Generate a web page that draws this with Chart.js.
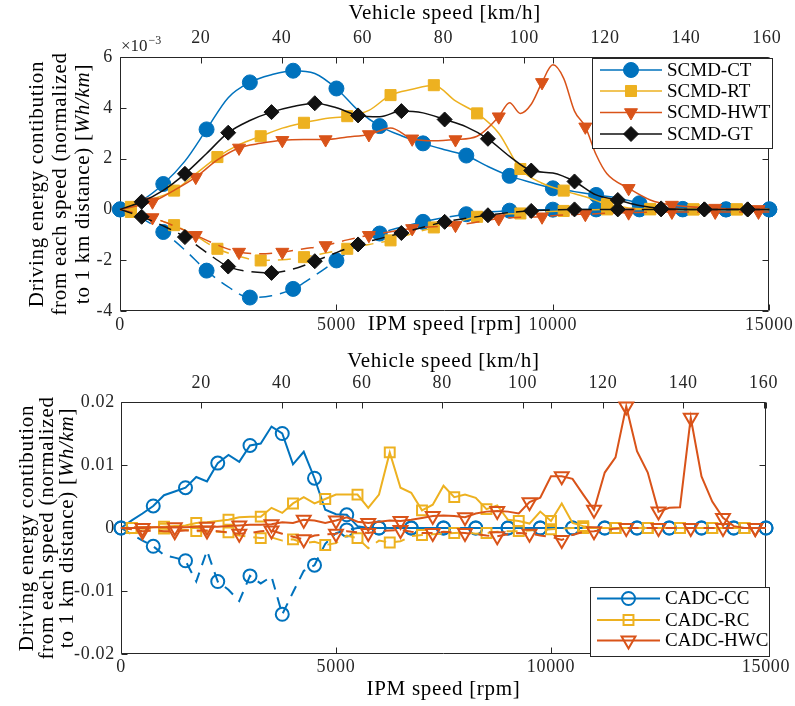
<!DOCTYPE html>
<html>
<head>
<meta charset="utf-8">
<script src="https://cdn.jsdelivr.net/npm/chart.js@4.4.1/dist/chart.umd.min.js"></script>
<style>
  body { margin: 0; background: #fff; }
  .wrap { position: absolute; left: 0; width: 795px; }
</style>
</head>
<body>
<div class="wrap" style="top:0;height:353px"><canvas id="top" width="795" height="353"></canvas></div>
<div class="wrap" style="top:350px;height:356px"><canvas id="bottom" width="795" height="356"></canvas></div>
<script>
// axis ticks
const rpmTicks = [0, 5000, 10000, 15000];
const kmhTicks = [20, 40, 60, 80, 100, 120, 140, 160];
const topYTicks = [-4, -2, 0, 2, 4, 6];
const bottomYTicks = [-0.02, -0.01, 0, 0.01, 0.02];

// top chart (values in 1e-3 Wh/km)
const ctX = [0, 500, 1000, 1500, 2000, 2500, 3000, 3500, 4000, 4500, 5000, 5500, 6000, 6500, 7000, 7500, 8000, 8500, 9000, 9500, 10000, 10500, 11000, 11500, 12000, 12500, 13000, 14000, 15000];
const ctUp = [0, 0.35, 1.0, 1.9, 3.15, 4.4, 5.0, 5.3, 5.46, 5.35, 4.76, 3.9, 3.28, 2.9, 2.6, 2.35, 2.12, 1.69, 1.32, 1.06, 0.83, 0.7, 0.57, 0.45, 0.24, 0.08, 0.02, 0, 0];
const ctDown = [0, -0.35, -0.89, -1.6, -2.41, -3.05, -3.47, -3.4, -3.13, -2.6, -2.01, -1.4, -0.95, -0.7, -0.49, -0.32, -0.19, -0.1, -0.05, -0.02, -0.01, 0, 0, 0, 0, 0, 0, 0, 0];

const rtX = [0, 250, 750, 1250, 1750, 2250, 2750, 3250, 3750, 4250, 4750, 5250, 5750, 6250, 6750, 7250, 7750, 8250, 8750, 9250, 9750, 10250, 10750, 11250, 11750, 12250, 13250, 14250, 15000];
const rtUp = [0, 0.1, 0.4, 0.74, 1.4, 2.06, 2.55, 2.88, 3.2, 3.41, 3.58, 3.67, 3.9, 4.5, 4.73, 4.89, 4.27, 3.78, 3.0, 1.59, 1.03, 0.74, 0.5, 0.21, 0.06, 0.02, 0, 0, 0];
const rtDown = [0, -0.1, -0.35, -0.62, -1.05, -1.55, -1.85, -2.01, -1.98, -1.88, -1.72, -1.55, -1.38, -1.22, -0.95, -0.71, -0.5, -0.29, -0.2, -0.16, -0.1, -0.06, -0.02, 0, 0, 0, 0, 0, 0];

const hwtX = [0, 750, 1250, 1750, 2250, 2750, 3250, 3750, 4250, 4750, 5250, 5750, 6250, 6750, 7250, 7750, 8250, 8750, 9000, 9250, 9500, 9750, 10000, 10250, 10500, 10750, 11000, 11250, 11750, 12250, 12750, 13750, 14750, 15000];
const hwtUp = [0, 0.3, 0.75, 1.27, 1.95, 2.42, 2.6, 2.72, 2.75, 2.75, 2.85, 2.95, 3.2, 2.78, 2.7, 2.75, 2.88, 3.65, 4.2, 3.78, 4.14, 5.0, 5.69, 5.16, 3.87, 3.25, 2.15, 1.4, 0.83, 0.37, 0.17, 0.05, 0, 0];
const hwtDown = [0, -0.32, -0.65, -1.02, -1.4, -1.68, -1.75, -1.68, -1.55, -1.42, -1.2, -1.02, -0.88, -0.75, -0.68, -0.62, -0.5, -0.36, -0.33, -0.31, -0.3, -0.29, -0.25, -0.22, -0.2, -0.19, -0.17, -0.15, -0.13, -0.11, -0.1, -0.1, -0.1, -0.1];

const gtX = [0, 500, 1000, 1500, 2000, 2500, 3000, 3500, 4000, 4500, 5000, 5500, 6000, 6500, 7000, 7500, 8000, 8500, 9000, 9500, 10000, 10500, 11000, 11500, 12000, 12500, 13500, 14500, 15000];
const gtUp = [0, 0.3, 0.75, 1.4, 2.2, 3.02, 3.5, 3.83, 4.05, 4.18, 4.0, 3.7, 3.65, 3.87, 3.8, 3.54, 3.25, 2.78, 2.09, 1.53, 1.43, 1.1, 0.57, 0.37, 0.15, 0.04, 0, 0, 0];
const gtDown = [0, -0.29, -0.65, -1.09, -1.7, -2.25, -2.45, -2.5, -2.35, -2.04, -1.7, -1.38, -1.15, -0.93, -0.7, -0.49, -0.35, -0.23, -0.12, -0.06, -0.02, 0, 0, 0, 0, 0, 0, 0, 0];

// bottom chart, one value every 250 rpm
const rpmGrid = [0, 250, 500, 750, 1000, 1250, 1500, 1750, 2000, 2250, 2500, 2750, 3000, 3250, 3500, 3750, 4000, 4250, 4500, 4750,
  5000, 5250, 5500, 5750, 6000, 6250, 6500, 6750, 7000, 7250, 7500, 7750, 8000, 8250, 8500, 8750, 9000, 9250, 9500, 9750,
  10000, 10250, 10500, 10750, 11000, 11250, 11500, 11750, 12000, 12250, 12500, 12750, 13000, 13250, 13500, 13750, 14000, 14250, 14500, 14750, 15000];

const ccUp = [0, 0.0012, 0.0023, 0.0035, 0.0052, 0.0058, 0.0064, 0.0081, 0.0074, 0.0103,
  0.0116, 0.0105, 0.0131, 0.0134, 0.0161, 0.0150, 0.0101, 0.0121, 0.0079, 0.0029,
  0.0022, 0.0021, 0.0003, 0, 0, 0, 0, 0, 0, 0,
  0, 0, 0, 0, 0, 0, 0, 0, 0, 0,
  0, 0, 0, 0, 0, 0, 0, 0, 0, 0,
  0, 0, 0, 0, 0, 0, 0, 0, 0, 0,
  0];
const ccDown = [0, -0.0010, -0.0020, -0.0029, -0.0043, -0.0047, -0.0052, -0.0085, -0.0036, -0.0085,
  -0.0098, -0.0116, -0.0076, -0.0088, -0.0077, -0.0137, -0.0102, -0.0068, -0.0059, -0.0025,
  -0.0008, -0.0003, 0, 0, 0, 0, 0, 0, 0, 0,
  0, 0, 0, 0, 0, 0, 0, 0, 0, 0,
  0, 0, 0, 0, 0, 0, 0, 0, 0, 0,
  0, 0, 0, 0, 0, 0, 0, 0, 0, 0,
  0];
const rcUp = [0, 0, 0.0001, 0.0001, 0.0002, 0.0003, 0.0004, 0.0008, 0.0009, 0.0011,
  0.0013, 0.0017, 0.0018, 0.0018, 0.0032, 0.0024, 0.0039, 0.0049, 0.0039, 0.0046,
  0.0053, 0.0053, 0.0053, 0.0032, 0.0053, 0.0120, 0.0064, 0.0056, 0.0028, 0.0037,
  0.0067, 0.0049, 0.0053, 0.0048, 0.0030, 0.0036, 0.0013, 0.0011, 0.0007, 0.0026,
  0.0011, 0.0039, 0.0008, 0.0003, 0, 0, 0, 0, 0, 0,
  0, 0, 0, 0, 0, 0, 0, 0, 0, 0,
  0];
const rcDown = [0, 0, -0.0001, -0.0001, -0.0001, -0.0002, -0.0003, -0.0005, -0.0005, -0.0006,
  -0.0007, -0.0012, -0.0014, -0.0016, -0.0015, -0.0020, -0.0018, -0.0024, -0.0022, -0.0027,
  -0.0024, -0.0012, -0.0016, -0.0032, -0.0020, -0.0023, -0.0021, -0.0013, -0.0011, -0.0010,
  -0.0009, -0.0008, -0.0007, -0.0009, -0.0008, -0.0006, -0.0005, -0.0005, -0.0004, -0.0003,
  -0.0002, -0.0001, 0, 0, 0, 0, 0, 0, 0, 0,
  0, 0, 0, 0, 0, 0, 0, 0, 0, 0,
  0];
const hwcUp = [0, 0, 0, 0.0001, 0.0001, 0.0001, 0.0001, 0.0002, 0.0002, 0.0002,
  0.0003, 0.0004, 0.0005, 0.0005, 0.0006, 0.0009, 0.0008, 0.0013, 0.0012, 0.0008,
  0.0012, 0.0017, 0.0010, 0.0008, 0.0010, 0.0012, 0.0011, 0.0013, 0.0016, 0.0019,
  0.0020, 0.0019, 0.0017, 0.0023, 0.0026, 0.0027, 0.0026, 0.0023, 0.0041, 0.0048,
  0.0082, 0.0082, 0.0078, 0.0053, 0.0029, 0.0088, 0.0112, 0.0193, 0.0122, 0.0088,
  0.0026, 0.0032, 0.0033, 0.0175, 0.0082, 0.0042, 0.0016, 0.0003, 0, 0,
  0];
const hwcDown = [0, -0.0002, -0.0005, -0.0004, -0.0005, -0.0005, -0.0004, -0.0004, -0.0004, -0.0005,
  -0.0007, -0.0009, -0.0008, -0.0005, -0.0004, -0.0009, -0.0014, -0.0018, -0.0012, -0.0010,
  -0.0009, -0.0005, -0.0007, -0.0008, -0.0005, -0.0004, -0.0003, -0.0006, -0.0008, -0.0008,
  -0.0006, -0.0007, -0.0008, -0.0010, -0.0012, -0.0013, -0.0010, -0.0008, -0.0009, -0.0012,
  -0.0014, -0.0019, -0.0011, -0.0006, -0.0005, -0.0003, -0.0001, 0, 0, 0,
  0, 0, 0, 0, 0, 0, 0, 0, 0, 0,
  0];

const FONT = "'Liberation Serif', 'Times New Roman', serif";
const BLUE = '#0072BD', YELLOW = '#EDB120', RED = '#D95319', BLACK = '#111111';
const AXIS = '#262626';
const yTitle = ['Driving energy contibution', 'from each speed (normalized', 'to 1 km distance) [Wh/km]'];
const unitText = 'Wh/km';

function pts(xs, ys) {
  return xs.map((x, i) => ({x: x, y: ys[i]}));
}

function topLine(label, xs, ys, color, style, size, rot, offset, dashed, order) {
  return {
    label: label,
    data: pts(xs, ys),
    borderColor: color,
    borderWidth: 1.5,
    borderDash: dashed ? [13, 8] : [],
    cubicInterpolationMode: 'monotone',
    pointStyle: style,
    pointRotation: rot,
    pointRadius: c => (c.raw && (c.raw.x - offset) % 1000 === 0) ? size : 0,
    pointBackgroundColor: color,
    pointBorderColor: color,
    pointBorderWidth: 1,
    markerSize: size,
    clip: false,
    order: order
  };
}

function bottomLine(label, ys, color, style, size, rot, offset, dashed, order) {
  return {
    label: label,
    data: pts(rpmGrid, ys),
    borderColor: color,
    borderWidth: 2,
    borderDash: dashed ? [11, 8] : [],
    tension: 0,
    pointStyle: style,
    pointRotation: rot,
    pointRadius: c => (c.dataIndex % 3 === offset) ? size : 0,
    pointBackgroundColor: 'rgba(0,0,0,0)',
    pointBorderColor: color,
    pointBorderWidth: 2,
    markerSize: size,
    clip: false,
    order: order
  };
}

// y title drawn by hand so the unit can be italic
function drawYTitle(chart, xs) {
  const ctx = chart.ctx;
  const a = chart.chartArea;
  const cy = (a.top + a.bottom) / 2;
  const normal = '21px ' + FONT, italic = 'italic 21px ' + FONT;
  ctx.save();
  ctx.fillStyle = '#000';
  ctx.textBaseline = 'middle';
  ctx.textAlign = 'left';
  yTitle.forEach((line, i) => {
    const k = line.indexOf(unitText);
    const segs = k < 0 ? [[line, normal]] :
      [[line.slice(0, k), normal], [unitText, italic], [line.slice(k + unitText.length), normal]];
    let w = 0;
    segs.forEach(s => { ctx.font = s[1]; w += ctx.measureText(s[0]).width; });
    ctx.save();
    ctx.translate(xs[i], cy);
    ctx.rotate(-Math.PI / 2);
    let x = -w / 2;
    segs.forEach(s => {
      ctx.font = s[1];
      ctx.fillText(s[0], x, 0);
      x += ctx.measureText(s[0]).width;
    });
    ctx.restore();
  });
  ctx.restore();
}

// box, inward tick marks, legend and exponent
const frame = {
  id: 'frame',
  beforeDraw(chart) {
    // the reference type face is wider than Liberation Serif
    chart.ctx.letterSpacing = '0.7px';
  },
  beforeDatasetsDraw(chart) {
    const {ctx, chartArea: a, scales} = chart;
    const L = Math.round(a.left) + 0.5, R = Math.round(a.right) - 0.5;
    const T = Math.round(a.top) + 0.5, B = Math.round(a.bottom) - 0.5;
    const tl = 6;
    ctx.save();
    ctx.strokeStyle = AXIS;
    ctx.lineWidth = 1;
    ctx.beginPath();
    ctx.rect(L, T, R - L, B - T);
    scales.x.ticks.forEach(t => {
      const p = Math.round(scales.x.getPixelForValue(t.value)) + 0.5;
      ctx.moveTo(p, B); ctx.lineTo(p, B - tl);
      ctx.moveTo(p, T); ctx.lineTo(p, T + tl);
    });
    scales.x2.ticks.forEach(t => {
      const p = Math.round(scales.x2.getPixelForValue(t.value)) + 0.5;
      ctx.moveTo(p, T); ctx.lineTo(p, T + tl);
    });
    scales.y.ticks.forEach(t => {
      const p = Math.round(scales.y.getPixelForValue(t.value)) + 0.5;
      ctx.moveTo(L, p); ctx.lineTo(L + tl, p);
      ctx.moveTo(R, p); ctx.lineTo(R - tl, p);
    });
    ctx.stroke();
    ctx.restore();
  },
  afterDatasetsDraw(chart, args, o) {
    const ctx = chart.ctx;
    const lg = o.legend;
    drawYTitle(chart, o.titleX);
    ctx.save();
    ctx.letterSpacing = '0px';
    ctx.fillStyle = '#fff';
    ctx.fillRect(lg.box[0], lg.box[1], lg.box[2], lg.box[3]);
    ctx.strokeStyle = AXIS;
    ctx.lineWidth = 1;
    ctx.strokeRect(lg.box[0] + 0.5, lg.box[1] + 0.5, lg.box[2], lg.box[3]);
    lg.items.forEach((di, k) => {
      const ds = chart.data.datasets[di];
      const y = lg.rows[k];
      ctx.setLineDash([]);
      ctx.strokeStyle = ds.borderColor;
      ctx.lineWidth = ds.borderWidth;
      ctx.beginPath();
      ctx.moveTo(lg.line[0], y);
      ctx.lineTo(lg.line[1], y);
      ctx.stroke();
      ctx.fillStyle = ds.pointBackgroundColor;
      ctx.strokeStyle = ds.pointBorderColor;
      ctx.lineWidth = ds.pointBorderWidth;
      Chart.helpers.drawPoint(ctx, {
        pointStyle: ds.pointStyle, rotation: ds.pointRotation,
        radius: ds.markerSize, borderWidth: ds.pointBorderWidth
      }, (lg.line[0] + lg.line[1]) / 2, y);
      ctx.fillStyle = '#000';
      ctx.font = '19px ' + FONT;
      ctx.textAlign = 'left';
      ctx.textBaseline = 'middle';
      ctx.fillText(ds.label, lg.textX, y + 1);
    });
    if (o.exponent) {
      ctx.fillStyle = AXIS;
      ctx.textBaseline = 'alphabetic';
      ctx.font = '17px ' + FONT;
      ctx.fillText('\u00d710', o.exponent[0], o.exponent[1]);
      const w = ctx.measureText('\u00d710').width;
      ctx.font = '12px ' + FONT;
      ctx.fillText('\u22123', o.exponent[0] + w + 1, o.exponent[1] - 7);
    }
    ctx.restore();
  }
};

function makeOptions(cfg) {
  const tickFont = {family: FONT, size: 18};
  const titleFont = {family: FONT, size: 21, lineHeight: 1.05};
  return {
    responsive: false,
    animation: false,
    devicePixelRatio: 1,
    events: [],
    layout: {padding: {left: 0, right: cfg.padRight, top: 0, bottom: 0}},
    plugins: {
      legend: {display: false},
      tooltip: {enabled: false},
      frame: {legend: cfg.legend, exponent: cfg.exponent, titleX: cfg.titleX}
    },
    scales: {
      x: {
        type: 'linear', position: 'bottom', min: 0, max: 15000,
        afterBuildTicks: s => { s.ticks = rpmTicks.map(v => ({value: v})); },
        afterFit: s => { s.height = cfg.bottomH; },
        grid: {display: false, drawTicks: false},
        border: {display: false},
        ticks: {font: tickFont, color: AXIS, padding: cfg.xPad, maxRotation: 0, autoSkip: false, callback: v => String(v)},
        title: {display: true, text: 'IPM speed [rpm]', font: titleFont, color: '#000', padding: {top: 0, bottom: cfg.xTitlePad}}
      },
      x2: {
        type: 'linear', position: 'top', min: 0, max: 160.6,
        afterBuildTicks: s => { s.ticks = kmhTicks.map(v => ({value: v})); },
        afterFit: s => { s.height = cfg.topH; },
        grid: {display: false, drawTicks: false},
        border: {display: false},
        ticks: {font: tickFont, color: AXIS, padding: 8.2, maxRotation: 0, autoSkip: false, callback: v => String(v)},
        title: {display: true, text: 'Vehicle speed [km/h]', font: titleFont, color: '#000', padding: {top: cfg.x2TitlePad, bottom: 0}}
      },
      y: {
        type: 'linear', position: 'left', min: cfg.yMin, max: cfg.yMax,
        afterBuildTicks: s => { s.ticks = cfg.yTicks.map(v => ({value: v})); },
        afterFit: s => { s.width = cfg.leftW; },
        grid: {display: false, drawTicks: false},
        border: {display: false},
        ticks: {font: tickFont, color: AXIS, padding: cfg.yPad, autoSkip: false, callback: v => String(v)},
        title: {display: false}
      }
    }
  };
}

new Chart(document.getElementById('top'), {
  type: 'line',
  data: {
    datasets: [
      topLine('SCMD-CT', ctX, ctUp, BLUE, 'circle', 7.5, 0, 0, false, 4),
      topLine('SCMD-RT', rtX, rtUp, YELLOW, 'rect', 7.8, 0, 250, false, 3),
      topLine('SCMD-HWT', hwtX, hwtUp, RED, 'triangle', 7.5, 180, 750, false, 2),
      topLine('SCMD-GT', gtX, gtUp, BLACK, 'rectRot', 7.5, 0, 500, false, 1),
      topLine('SCMD-CT', ctX, ctDown, BLUE, 'circle', 7.5, 0, 0, true, 4),
      topLine('SCMD-RT', rtX, rtDown, YELLOW, 'rect', 7.8, 0, 250, true, 3),
      topLine('SCMD-HWT', hwtX, hwtDown, RED, 'triangle', 7.5, 180, 750, true, 2),
      topLine('SCMD-GT', gtX, gtDown, BLACK, 'rectRot', 7.5, 0, 500, true, 1)
    ]
  },
  options: makeOptions({
    padRight: 25, leftW: 120, topH: 57, bottomH: 42,
    xPad: 3.2, xTitlePad: 17, x2TitlePad: 2, yPad: 7,
    yMin: -4, yMax: 6, yTicks: topYTicks,
    titleX: [37, 60, 83],
    legend: {box: [592, 58, 180, 90], rows: [70, 91, 112.5, 134], line: [600, 662], textX: 667, items: [0, 1, 2, 3]},
    exponent: [121, 51]
  }),
  plugins: [frame]
});

new Chart(document.getElementById('bottom'), {
  type: 'line',
  data: {
    datasets: [
      bottomLine('CADC-CC', ccUp, BLUE, 'circle', 6.5, 0, 0, false, 3),
      bottomLine('CADC-RC', rcUp, YELLOW, 'rect', 7, 0, 1, false, 2),
      bottomLine('CADC-HWC', hwcUp, RED, 'triangle', 8, 180, 2, false, 1),
      bottomLine('CADC-CC', ccDown, BLUE, 'circle', 6.5, 0, 0, true, 3),
      bottomLine('CADC-RC', rcDown, YELLOW, 'rect', 7, 0, 1, true, 2),
      bottomLine('CADC-HWC', hwcDown, RED, 'triangle', 8, 180, 2, true, 1)
    ]
  },
  options: makeOptions({
    padRight: 29, leftW: 121, topH: 52, bottomH: 52,
    xPad: 2.2, xTitlePad: 5, x2TitlePad: 0, yPad: 6,
    yMin: -0.02, yMax: 0.02, yTicks: bottomYTicks,
    titleX: [27, 47, 67],
    legend: {box: [590, 237, 179, 69], rows: [248.5, 270, 290.5], line: [597, 660], textX: 665, items: [0, 1, 2]},
    exponent: null
  }),
  plugins: [frame]
});
</script>
</body>
</html>
